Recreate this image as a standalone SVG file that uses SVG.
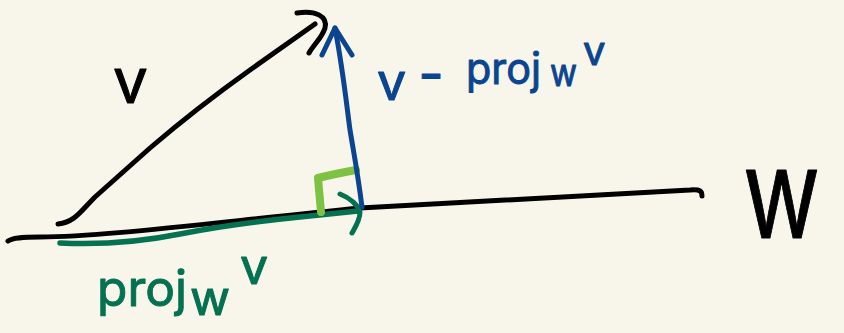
<svg xmlns="http://www.w3.org/2000/svg" width="844" height="333" viewBox="0 0 844 333">
<style>
.ink{fill:none;stroke-linecap:round;stroke-linejoin:round}
.k{stroke:#000}
.b{stroke:#0b4590}
.g{stroke:#047150}
.lg{stroke:#7dc242}
.t{font-family:Inter,"DejaVu Sans","Liberation Sans",sans-serif;font-weight:400;stroke-width:1;stroke-linejoin:round}
.tk{fill:#000;stroke:#000}
.tb{fill:#0b4590;stroke:#0b4590}
.tg{fill:#047150;stroke:#047150}
</style>
<rect width="844" height="333" fill="#f8f6eb"/>
<g id="line-w">
<path class="ink k" stroke-width="5" d="M8,241 C12,238 20,237 40,237 C100,237 200,224 360,208 L690,190 C700,189 702,191 702,196"/>
<text class="t tk" x="743" y="238" font-size="125" font-weight="300" stroke-width="0" textLength="77" lengthAdjust="spacingAndGlyphs">w</text>
</g>
<g id="vector-v">
<path class="ink k" stroke-width="5" d="M58,224 C75,222 80,212 95,197 L150,148 C185,118 215,95 250,70 L315,24"/>
<path class="ink k" stroke-width="5" d="M297,13 C315,10 328,16 325,28 C322,38 314,44 309,53"/>
<text class="t tk" x="113" y="103" font-size="62">v</text>
</g>
<g id="proj">
<path class="ink g" stroke-width="5.5" d="M60,243 C100,245 140,242 180,234 C220,226 260,221 300,217 L358,211"/>
<path class="ink g" stroke-width="5" d="M340,194 C350,198 358,205 360,212 C360,220 356,226 352,233"/>
<text class="t tg" font-size="50"><tspan x="97" y="306" textLength="90" lengthAdjust="spacingAndGlyphs">proj</tspan><tspan x="190" y="315" font-size="48" textLength="40" lengthAdjust="spacingAndGlyphs">w</tspan><tspan x="240" y="284" font-size="50">v</tspan></text>
</g>
<g id="right-angle">
<path class="ink lg" stroke-width="8" d="M321,212 L318,178 C330,175 345,172 356,170"/>
</g>
<g id="diff">
<path class="ink b" stroke-width="5" d="M362,207 C358,175 355,160 350,130 C346,100 343,70 335,28"/>
<path class="ink b" stroke-width="5" d="M322,55 L335,28 L352,55"/>
<text class="t tb" font-size="52"><tspan x="377" y="100">v</tspan><tspan x="418" y="91" textLength="26" lengthAdjust="spacingAndGlyphs">−</tspan><tspan x="466" y="84" font-size="44" textLength="75" lengthAdjust="spacingAndGlyphs">proj</tspan><tspan x="550" y="86" font-size="38" textLength="27" lengthAdjust="spacingAndGlyphs">w</tspan><tspan x="583" y="65" font-size="40">v</tspan></text>
</g>
</svg>
